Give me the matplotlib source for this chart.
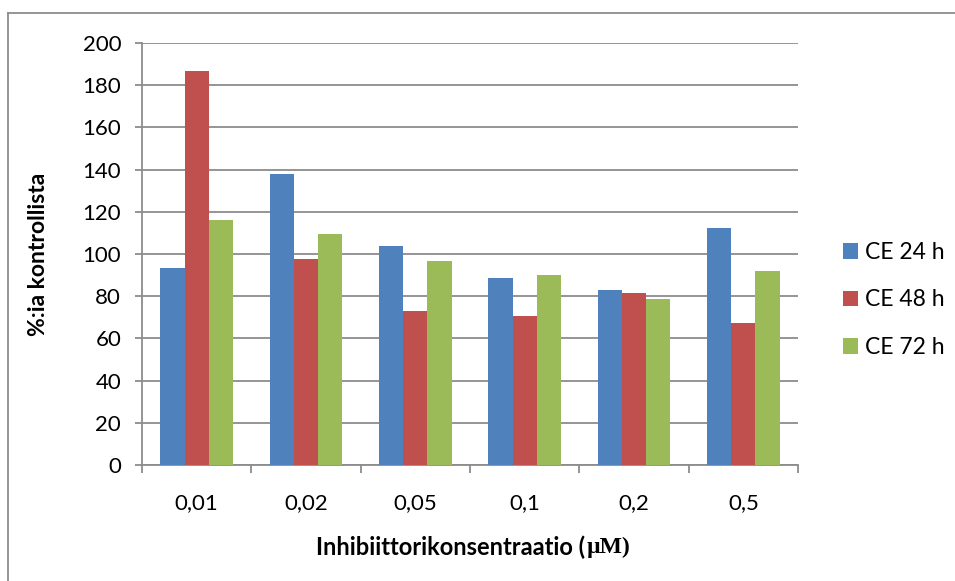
import numpy as np
import matplotlib.pyplot as plt
from matplotlib.lines import Line2D

plt.rcParams['font.family'] = ['Lato', 'DejaVu Sans']

pitoisuudet = ['0,01', '0,02', '0,05', '0,1', '0,2', '0,5']
ce24 = [93.4, 138.1, 104.0, 88.5, 83.1, 112.3]
ce48 = [186.9, 97.7, 73.2, 70.4, 81.4, 67.4]
ce72 = [116.2, 109.7, 96.6, 90.2, 78.9, 92.1]
sarjat = ['CE 24 h', 'CE 48 h', 'CE 72 h']
varit = ['#4F81BD', '#C0504D', '#9BBB59']

fig = plt.figure(figsize=(9.55, 5.81), dpi=100)
ax = fig.add_axes([142/955, 1 - 465/581, 656/955, 422/581])

x = np.arange(len(pitoisuudet))
w = 1 / 4.5
for i, (arvot, nimi, vari) in enumerate(zip([ce24, ce48, ce72], sarjat, varit)):
    ax.bar(x + (i - 1) * w, arvot, w, color=vari, label=nimi, zorder=3)

ax.set_xlim(-0.5, 5.5)
ax.set_ylim(0, 200)
ax.set_yticks(np.arange(0, 201, 20))
ax.yaxis.grid(True, color='#8c8c8c', linewidth=1.3, zorder=0)

# rajaviivat kategorioiden välissä, nimet keskelle
ax.set_xticks(np.arange(-0.5, 6, 1))
ax.set_xticklabels([])
ax.set_xticks(x, minor=True)
ax.set_xticklabels(pitoisuudet, minor=True)
ax.tick_params(axis='x', which='major', length=6, width=1.3, color='#8c8c8c')
ax.tick_params(axis='x', which='minor', length=0, pad=20, labelsize=16)
ax.tick_params(axis='y', length=5, width=1.3, color='#8c8c8c', pad=10, labelsize=16)

for s in ['top', 'right']:
    ax.spines[s].set_visible(False)
for s in ['left', 'bottom']:
    ax.spines[s].set_color('#8c8c8c')
    ax.spines[s].set_linewidth(1.3)

ax.set_ylabel('%:ia kontrollista', fontsize=16.5, fontweight='bold')
ax.yaxis.set_label_coords(-93/656, 0.5)

# x-akselin otsikko kahdessa osassa, yksikkö serif-fontilla
ylab = 1 - 547/581
t1 = fig.text(0, ylab, 'Inhibiittorikonsentraatio (', fontsize=17,
              fontweight='bold', va='center')
t2 = fig.text(0, ylab, 'µM)', fontsize=17, fontweight='bold',
              family='Liberation Serif', va='center')
fig.canvas.draw()
r = fig.canvas.get_renderer()
w1 = t1.get_window_extent(r).width
w2 = t2.get_window_extent(r).width
x0 = 472 - (w1 + w2) / 2
t1.set_x(x0 / 955)
t2.set_x((x0 + w1 + 2) / 955)

ax.legend(loc='center left', bbox_to_anchor=(822/955, 1 - 300/581),
          bbox_transform=fig.transFigure, frameon=False, fontsize=16.5,
          handlelength=0.66, handleheight=0.66, handletextpad=0.3,
          labelspacing=1.15)

# kehys kuvan ympärillä
fig.add_artist(Line2D([8/955, 8/955], [0, 1 - 13/581], transform=fig.transFigure,
                      color='#8c8c8c', linewidth=1.3))
fig.add_artist(Line2D([8/955, 1], [1 - 13/581, 1 - 13/581], transform=fig.transFigure,
                      color='#8c8c8c', linewidth=1.3))

fig.savefig('out.png', dpi=100)
